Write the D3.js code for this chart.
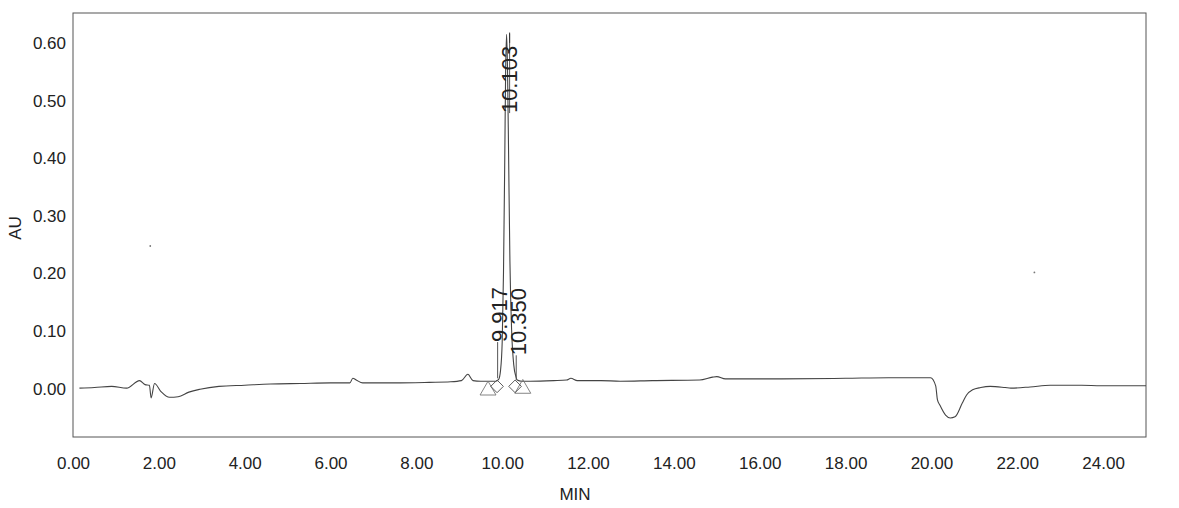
<!DOCTYPE html>
<html>
<head>
<meta charset="utf-8">
<script src="https://cdn.jsdelivr.net/npm/d3@7/dist/d3.min.js"></script>
<style>
  html, body { margin: 0; padding: 0; background: #fff; }
  svg { display: block; }
  text { font-family: "Liberation Sans", Arial, sans-serif; fill: #222; }
</style>
</head>
<body>
<svg id="chart" width="1179" height="508"></svg>
<script>
// ---- data ----
const timeMin = [
  0.15, 0.5, 0.9, 1.25, 1.55, 1.68, 1.78, 1.82, 1.9, 2.05, 2.25, 2.45, 2.7, 2.96, 3.4, 4.0, 4.6, 5.3, 6.0, 6.45, 6.52, 6.6, 6.75,
  7.5, 8.3, 8.8, 9.05, 9.2, 9.32, 9.5, 9.7, 9.85, 9.917, 9.96, 10.0, 10.03, 10.06, 10.08, 10.103, 10.125, 10.15, 10.18,
  10.22, 10.27, 10.32, 10.35, 10.45, 10.65, 11.2, 11.5, 11.6, 11.75, 12.3, 12.75, 13.5, 14.6, 14.9, 15.0, 15.2, 16.5, 18.0,
  19.0, 19.86, 19.98, 20.1, 20.14, 20.2, 20.33, 20.44, 20.55, 20.72, 20.82, 20.96, 21.15, 21.37, 21.72, 21.85, 22.3, 22.77,
  23.5, 23.95, 24.3, 25.0
];
const absorbanceAU = [
  0.000, 0.001, 0.003, 0.000, 0.013, 0.006, 0.005, -0.017, 0.008, -0.006, -0.016, -0.015, -0.007, -0.002, 0.003, 0.005, 0.007, 0.008, 0.009, 0.009, 0.017, 0.014, 0.009,
  0.009, 0.010, 0.011, 0.013, 0.024, 0.013, 0.012, 0.012, 0.012, 0.015, 0.030, 0.080, 0.200, 0.400, 0.550, 0.615, 0.550, 0.400, 0.220,
  0.100, 0.040, 0.020, 0.014, 0.012, 0.012, 0.013, 0.014, 0.017, 0.013, 0.013, 0.012, 0.013, 0.014, 0.019, 0.020, 0.016, 0.016, 0.017,
  0.018, 0.018, 0.018, 0.004, -0.020, -0.030, -0.047, -0.052, -0.050, -0.026, -0.012, -0.003, 0.001, 0.003, 0.001, 0.000, 0.002, 0.005,
  0.005, 0.004, 0.004, 0.004
];
const xTicks = [0, 2, 4, 6, 8, 10, 12, 14, 16, 18, 20, 22, 24];
const yTicks = [0.0, 0.1, 0.2, 0.3, 0.4, 0.5, 0.6];
const peakLabels = ["9.917", "10.103", "10.350"];
const peakTimes = [9.917, 10.103, 10.350];
const peakLabelBaseAU = [0.080, 0.478, 0.057];   // where each rotated label ends (bottom)
const peakLabelTipAU = [0.017, 0.616, 0.014];    // curve point each label's line reaches
const startMarkTimes = [9.67, 10.48];
const startMarkAU = [-0.004, -0.001];
const diamondTimes = [9.88, 10.30];
const diamondAU = [0.003, 0.003];
const speckTimes = [1.8, 22.4];
const speckAU = [0.247, 0.201];

// ---- layout ----
const svg = d3.select("#chart");
const pL = 73, pR = 1146, pT = 13, pB = 437;
const x = d3.scaleLinear().domain([0, 25]).range([pL, pR]);
const y = d3.scaleLinear().domain([-0.085, 0.652]).range([pB, pT]);
const FONT = '"Liberation Sans", Arial, sans-serif';

// frame
svg.append("rect")
  .attr("x", pL).attr("y", pT)
  .attr("width", pR - pL).attr("height", pB - pT)
  .attr("fill", "none").attr("stroke", "#555").attr("stroke-width", 1);

// axes (labels only, no tick marks)
const xAxis = d3.axisBottom(x).tickValues(xTicks).tickFormat(d3.format(".2f")).tickSize(0).tickPadding(0);
const gx = svg.append("g").attr("transform", `translate(0,${pB})`).call(xAxis);
gx.select(".domain").remove();
gx.selectAll("text").attr("dy", null).attr("y", 32).attr("font-size", 17)
  .style("font-family", FONT).attr("fill", "#222");

const yAxis = d3.axisLeft(y).tickValues(yTicks).tickFormat(d3.format(".2f")).tickSize(0).tickPadding(0);
const gy = svg.append("g").attr("transform", `translate(${pL},0)`).call(yAxis);
gy.select(".domain").remove();
gy.selectAll("text").attr("x", -7).attr("dy", "0.35em").attr("font-size", 17)
  .style("font-family", FONT).attr("fill", "#222");

// axis titles
svg.append("text").attr("x", 575).attr("y", 500).attr("text-anchor", "middle")
  .attr("font-size", 17).text("MIN");
svg.append("text").attr("transform", "translate(21,228) rotate(-90)").attr("text-anchor", "middle")
  .attr("font-size", 17).text("AU");

// trace
const pts = timeMin.map((t, i) => [t, absorbanceAU[i]]);
const line = d3.line().x(d => x(d[0])).y(d => y(d[1])).curve(d3.curveMonotoneX);
svg.append("path").datum(pts).attr("d", line)
  .attr("fill", "none").attr("stroke", "#444").attr("stroke-width", 1.1);

// specks
svg.selectAll("circle.speck").data(speckTimes).enter().append("circle")
  .attr("cx", (d) => x(d)).attr("cy", (d, i) => y(speckAU[i])).attr("r", 0.9).attr("fill", "#777");

// peak label lines
const lineDx = [-1, 3, -1];
peakTimes.forEach((t, i) => {
  svg.append("line")
    .attr("x1", x(t) + lineDx[i]).attr("x2", x(t) + lineDx[i])
    .attr("y1", y(peakLabelBaseAU[i])).attr("y2", y(peakLabelTipAU[i]))
    .attr("stroke", "#555").attr("stroke-width", 1);
});
// dash above main label
svg.append("line")
  .attr("x1", x(peakTimes[1]) + 3).attr("x2", x(peakTimes[1]) + 3)
  .attr("y1", y(0.618)).attr("y2", y(0.600))
  .attr("stroke", "#333").attr("stroke-width", 1);

// peak labels (rotated)
const labelDx = [8, 10, 9];
peakTimes.forEach((t, i) => {
  const lx = x(t) + labelDx[i];
  const ly = y(peakLabelBaseAU[i]);
  svg.append("text")
    .attr("transform", `translate(${lx},${ly}) rotate(-90)`)
    .attr("text-anchor", "start").attr("font-size", 22)
    .text(peakLabels[i]);
});

// start/end triangles and diamonds
const tri = d3.symbol().type(d3.symbolTriangle).size(110);
startMarkTimes.forEach((t, i) => {
  svg.append("path").attr("d", tri)
    .attr("transform", `translate(${x(t)},${y(startMarkAU[i])})`)
    .attr("fill", "none").attr("stroke", "#777").attr("stroke-width", 0.9);
});
const dia = d3.symbol().type(d3.symbolSquare).size(80);
diamondTimes.forEach((t, i) => {
  svg.append("path").attr("d", dia)
    .attr("transform", `translate(${x(t)},${y(diamondAU[i])}) rotate(45)`)
    .attr("fill", "none").attr("stroke", "#555").attr("stroke-width", 0.9);
});
</script>
</body>
</html>
